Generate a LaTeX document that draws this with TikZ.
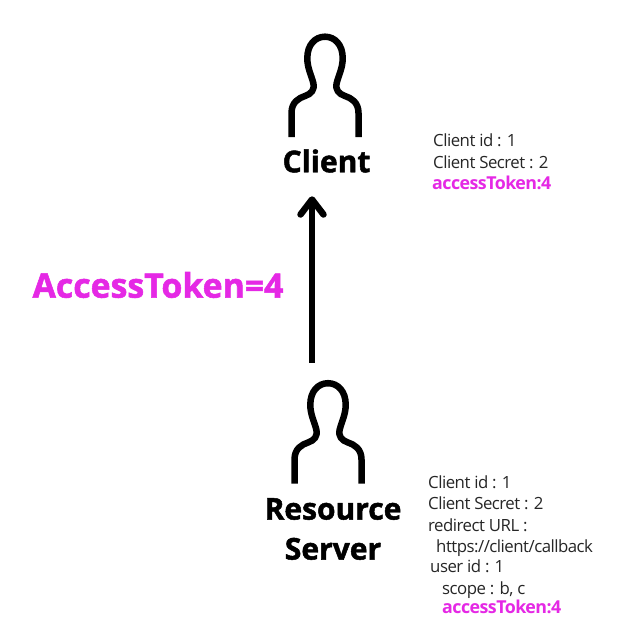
\documentclass[tikz,border=0pt]{standalone}
\usepackage{fontspec}
\setmainfont{Open Sans}
\newfontfamily\heavyfont[FakeBold=1.6]{Open Sans Bold}
\definecolor{magentaink}{HTML}{E528E5}
\tikzset{
  x=1pt,y=-1pt,
  person/.style={line width=6.5pt,line join=round},
  title/.style={font=\heavyfont\fontsize{30}{40}\selectfont,align=center,inner sep=0pt},
  info/.style={font=\fontsize{16.8}{21.4}\selectfont\addfontfeature{LetterSpace=-3},align=left,inner sep=0pt,anchor=north west,text=black!85},
  hi/.style={font=\bfseries\fontsize{17.8}{21.7}\selectfont\addfontfeature{LetterSpace=-3},inner sep=0pt,anchor=north west,text=magentaink},
  flow/.style={line width=6pt},
  flowhead/.style={line width=6.5pt,line join=round,line cap=round}
}
\newcommand{\personpath}[2]{%
  \draw[person,shift={(#1,#2)}] (-33.5,50) -- (-33.5,26)
    .. controls (-33.5,15) and (-26,11) .. (-20,9)
    .. controls (-14,7) and (-10,3) .. (-11.7,-4)
    .. controls (-14,-13) and (-17.7,-19) .. (-17.7,-29)
    .. controls (-17.7,-42) and (-10,-50.3) .. (0,-50.3)
    .. controls (10,-50.3) and (17.7,-42) .. (17.7,-29)
    .. controls (17.7,-19) and (14,-13) .. (11.7,-4)
    .. controls (10,3) and (14,7) .. (20,9)
    .. controls (26,11) and (33.5,15) .. (33.5,26)
    -- (33.5,50);}
\begin{document}
\begin{tikzpicture}
\useasboundingbox (0,0) rectangle (636,633);
\fill[white] (0,0) rectangle (636,633);
\personpath{325}{87}
\personpath{328}{433.5}
\node[title] (client) at (326.5,161) {Client};
\node[title] (server) at (333,529) {Resource\\Server};
\coordinate (flowstart) at (312,362.5);
\coordinate (flowend) at (312,200);
\draw[flow] (flowstart) -- (flowend);
\draw[flowhead] (300.5,214.5) -- (312,199.5) -- (323.5,214.5);
\node[font=\heavyfont\fontsize{33.8}{40}\selectfont,text=magentaink,inner sep=0pt] (token) at (158,285) {AccessToken=4};
\node[info] (clientinfo) at (433,134) {Client id : 1\\Client Secret : 2};
\node[hi] (clienttoken) at (432,176) {accessToken:4};
\node[info] (serverinfo) at (428,475.5) {Client id : 1\\Client Secret : 2\\redirect URL :\\\hspace*{8pt}https://client/callback};
\node[info] (userinfo) at (430,560) {user id : 1\\\hspace*{12pt}scope : b, c};
\node[hi] (servertoken) at (442,600) {accessToken:4};
\end{tikzpicture}
\end{document}
